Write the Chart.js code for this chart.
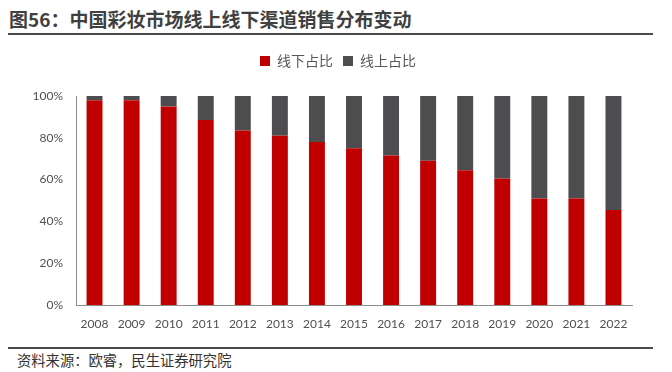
<!DOCTYPE html>
<html><head><meta charset="utf-8">
<script src="https://cdn.jsdelivr.net/npm/chart.js@4"></script>
<style>
html,body{margin:0;padding:0;background:#fff}
body{width:672px;height:372px;position:relative;overflow:hidden;font-family:"Noto Sans CJK SC","Noto Sans",sans-serif}
#title{position:absolute;left:9px;top:6px;font-size:19px;font-weight:bold;color:#404040;line-height:26px;white-space:nowrap}
.rule{position:absolute;left:8px;width:645px;height:2px;background:#4a4a4a}
#src{position:absolute;left:17px;top:350px;font-size:14.3px;color:#333;line-height:20px;white-space:nowrap}
#wrap{position:absolute;left:0;top:0;width:672px;height:340px}
</style></head><body>
<div id="title">图56：中国彩妆市场线上线下渠道销售分布变动</div>
<div class="rule" style="top:33px"></div>
<div id="wrap"><canvas id="c"></canvas></div>
<div class="rule" style="top:347px"></div>
<div id="src">资料来源：欧睿，民生证券研究院</div>
<script>
const categories = ['2008','2009','2010','2011','2012','2013','2014','2015','2016','2017','2018','2019','2020','2021','2022'];
const offlineShare = [98, 98, 95, 88.5, 83.5, 81, 78, 75, 71.5, 69, 64.5, 60.5, 51, 51, 45.5];
const onlineShare = [2, 2, 5, 11.5, 16.5, 19, 22, 25, 28.5, 31, 35.5, 39.5, 49, 49, 54.5];
const seriesNames = ['线下占比', '线上占比'];
const yTicks = [0, 20, 40, 60, 80, 100];

const legendTweak = {
  id: 'legendTweak',
  beforeInit(chart) {
    const fit = chart.legend.fit;
    chart.legend.fit = function () { fit.call(this); this.height = 52; };
  },
  afterLayout(chart) {
    chart.legend.left += 22;
    chart.legend.right += 22;
  }
};

new Chart(document.getElementById('c'), {
  type: 'bar',
  data: {
    labels: categories,
    datasets: [
      { label: seriesNames[0], data: offlineShare, backgroundColor: '#C00000', barPercentage: 0.43, categoryPercentage: 1 },
      { label: seriesNames[1], data: onlineShare, backgroundColor: '#4D4D4F', barPercentage: 0.43, categoryPercentage: 1 }
    ]
  },
  options: {
    responsive: true,
    maintainAspectRatio: false,
    animation: false,
    layout: { padding: { left: 0, right: 40, top: 44, bottom: 0 } },
    plugins: {
      legend: {
        position: 'top',
        labels: {
          boxWidth: 10, boxHeight: 10, padding: 10,
          color: '#595959',
          font: { family: '"Noto Sans CJK SC"', size: 14 }
        }
      },
      tooltip: { enabled: false }
    },
    scales: {
      x: {
        stacked: true,
        grid: { display: false, drawTicks: false },
        border: { display: true, color: '#8c8c8c', width: 1 },
        ticks: { color: '#505050', font: { family: 'Lato', size: 12 }, padding: 12, maxRotation: 0, autoSkip: false },
        afterFit(scale) { scale.height = 35; }
      },
      y: {
        stacked: true,
        min: 0, max: 100,
        afterBuildTicks(scale) { scale.ticks = yTicks.map(v => ({ value: v })); },
        grid: { display: false, drawTicks: false },
        border: { display: true, color: '#8c8c8c', width: 1 },
        ticks: { color: '#505050', font: { family: 'Lato', size: 12 }, padding: 13, callback: v => v + '%' },
        afterFit(scale) { scale.width = 76; }
      }
    }
  },
  plugins: [legendTweak]
});
</script>
</body></html>
